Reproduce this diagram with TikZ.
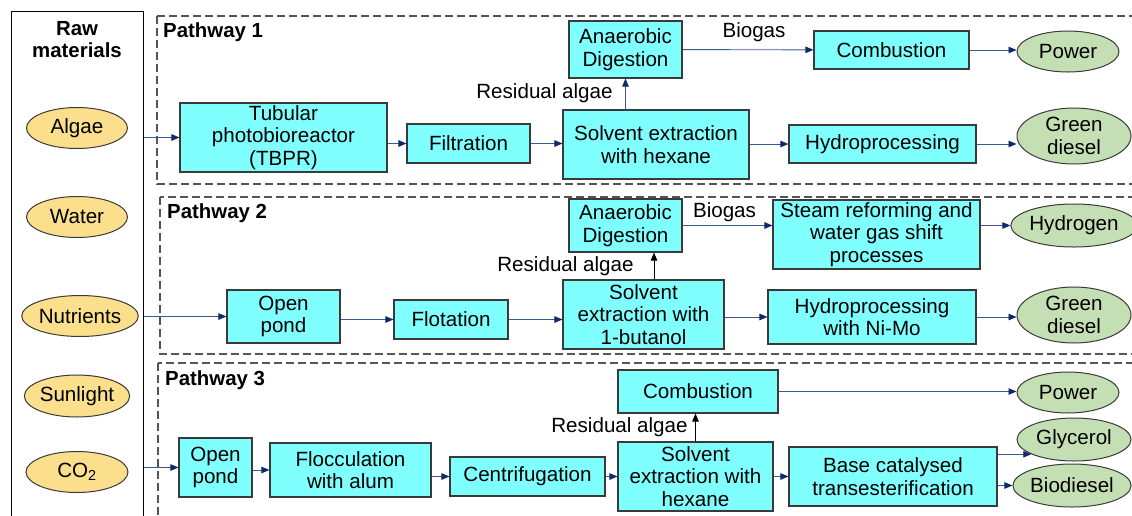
\documentclass[tikz,border=0pt]{standalone}
\usepackage{fontspec}
\setmainfont{Liberation Sans}
\usetikzlibrary{arrows.meta,shapes.geometric}
\definecolor{boxfill}{HTML}{80FFFF}
\definecolor{boxline}{HTML}{3A3A3A}
\definecolor{rawfill}{HTML}{FCDF8C}
\definecolor{prodfill}{HTML}{C5DFB4}
\definecolor{linec}{HTML}{3C5A92}
\definecolor{tipc}{HTML}{0D2A6B}
\definecolor{dashc}{HTML}{555555}
\begin{document}
\begin{tikzpicture}[x=1pt,y=-1pt,
  font=\fontsize{20.6}{22.5}\selectfont,
  proc/.style={draw=boxline, fill=boxfill, line width=1.1pt, align=center, inner sep=0pt},
  rawell/.style={ellipse, draw=boxline, fill=rawfill, line width=1pt, inner sep=0pt, minimum height=41pt},
  prod/.style={ellipse, draw=boxline, fill=prodfill, line width=1pt, inner sep=0pt, align=center},
  arr/.style={draw=linec, line width=0.9pt, -{Triangle[length=8pt,width=6.5pt,color=tipc]}},
  barr/.style={draw=black, line width=0.9pt, -{Triangle[length=8pt,width=6.5pt,color=black]}},
  dashbox/.style={draw=dashc, line width=1.1pt, dash pattern=on 8pt off 4pt},
  pwlabel/.style={font=\fontsize{20.4}{22.5}\selectfont\bfseries, anchor=west, inner sep=0pt},
  lbl/.style={inner sep=0pt}
]
\useasboundingbox (0,0) rectangle (1132,515);

% raw materials column
\node[draw=black, line width=1pt, minimum width=132pt, minimum height=514pt, inner sep=0pt] (rawbox) at (77,268) {};
\node[font=\fontsize{20.4}{22}\selectfont\bfseries, align=center, inner sep=0pt] (rawtitle) at (77,40) {Raw\\materials};
\node[rawell, minimum width=101pt] (algae) at (77,128) {Algae};
\node[rawell, minimum width=101pt] (water) at (77,217) {Water};
\node[rawell, minimum width=114pt] (nutr) at (80,316) {Nutrients};
\node[rawell, minimum width=102pt, minimum height=42pt] (sun) at (77,396) {Sunlight};
\node[rawell, minimum width=102pt] (co2) at (77,472) {CO\textsubscript{2}};

% pathway frames
\draw[dashbox] (157,16) rectangle (1145,184);
\draw[dashbox] (160,197) rectangle (1145,354);
\draw[dashbox] (158,363) rectangle (1145,530);
\node[pwlabel] (pw1) at (163,32) {Pathway 1};
\node[pwlabel] (pw2) at (167,213) {Pathway 2};
\node[pwlabel] (pw3) at (165,380) {Pathway 3};

% ---------- Pathway 1 ----------
\node[proc, minimum width=207pt, minimum height=69pt] (tbpr) at (283.5,137.5) {Tubular\\photobioreactor\\(TBPR)};
\node[proc, minimum width=123pt, minimum height=39pt] (filt) at (468.5,143.5) {Filtration};
\node[proc, minimum width=186pt, minimum height=69pt] (sol1) at (656,144.5) {Solvent extraction\\with hexane};
\node[proc, minimum width=113pt, minimum height=57pt] (ad1) at (625.5,49.5) {Anaerobic\\Digestion};
\node[proc, minimum width=155pt, minimum height=38pt] (comb1) at (891.5,50) {Combustion};
\node[proc, minimum width=187pt, minimum height=38pt] (hydro1) at (882.5,144) {Hydroprocessing};
\node[prod, minimum width=102pt, minimum height=41pt] (power1) at (1068,51.5) {Power};
\node[prod, minimum width=114pt, minimum height=56pt] (gd1) at (1074,136) {Green\\diesel};
\node[lbl] (res1) at (544.5,93) {Residual algae};
\node[lbl] (bio1) at (754,32) {Biogas};

\draw[arr] (rawbox.east |- tbpr) -- (tbpr);
\draw[arr] (tbpr.east |- filt) -- (filt);
\draw[arr] (filt) -- (filt -| sol1.west);
\draw[arr] (sol1.east |- hydro1) -- (hydro1);
\draw[arr] (hydro1) -- (hydro1 -| gd1.west);
\draw[arr] (ad1.south |- sol1.north) -- (ad1.south);
\draw[arr] (ad1) -- (comb1);
\draw[arr] (comb1) -- (comb1 -| power1.west);

% ---------- Pathway 2 ----------
\node[proc, minimum width=113pt, minimum height=53pt] (op2) at (283.5,316.5) {Open\\pond};
\node[proc, minimum width=114pt, minimum height=39pt] (flot) at (451,319.5) {Flotation};
\node[proc, minimum width=161pt, minimum height=69pt] (sol2) at (643.5,314.5) {Solvent\\extraction with\\1-butanol};
\node[proc, minimum width=113pt, minimum height=53pt] (ad2) at (625.5,225.5) {Anaerobic\\Digestion};
\node[proc, minimum width=207pt, minimum height=69pt] (steam) at (876.5,234.5) {Steam reforming and\\water gas shift\\processes};
\node[proc, minimum width=208pt, minimum height=54pt] (hydro2) at (872,317) {Hydroprocessing\\with Ni-Mo};
\node[prod, minimum width=114pt, minimum height=43pt] (h2) at (1074,225.5) {Hydrogen};
\node[prod, minimum width=114pt, minimum height=56pt] (gd2) at (1074,315) {Green\\diesel};
\node[lbl] (res2) at (565.5,266) {Residual algae};
\node[lbl] (bio2) at (724.5,212) {Biogas};

\draw[arr] (rawbox.east |- op2) -- (op2);
\draw[arr] (op2.east |- flot) -- (flot);
\draw[arr] (flot) -- (flot -| sol2.west);
\draw[arr] (sol2.east |- hydro2) -- (hydro2);
\draw[arr] (hydro2) -- (hydro2 -| gd2.west);
\draw[barr] ([xshift=10.5pt]sol2.north) -- ([xshift=10.5pt]sol2.north |- ad2.south);
\draw[arr] (ad2) -- (ad2 -| steam.west);
\draw[arr] (steam.east |- h2) -- (h2);

% ---------- Pathway 3 ----------
\node[proc, minimum width=73pt, minimum height=59pt] (op3) at (215.5,467.5) {Open\\pond};
\node[proc, minimum width=161pt, minimum height=54pt] (floc) at (350.5,470) {Flocculation\\with alum};
\node[proc, minimum width=155pt, minimum height=39pt] (cent) at (527.5,476.5) {Centrifugation};
\node[proc, minimum width=155pt, minimum height=69pt] (sol3) at (695.5,476.5) {Solvent\\extraction with\\hexane};
\node[proc, minimum width=160pt, minimum height=43pt] (comb3) at (698,391.5) {Combustion};
\node[proc, minimum width=208pt, minimum height=59pt] (base) at (893,476.5) {Base catalysed\\transesterification};
\node[prod, minimum width=102pt, minimum height=41pt] (power3) at (1068,392.5) {Power};
\node[prod, minimum width=114pt, minimum height=43pt] (glyc) at (1074,439.5) {Glycerol};
\node[prod, minimum width=118pt, minimum height=43pt] (biod) at (1072,485.5) {Biodiesel};
\node[lbl] (res3) at (619.5,427) {Residual algae};

\draw[arr] (rawbox.east |- op3) -- (op3);
\draw[arr] (op3.east |- floc) -- (floc);
\draw[arr] (floc.east |- cent) -- (cent);
\draw[arr] (cent) -- (sol3);
\draw[arr] (sol3) -- (base);
\draw[barr] (sol3.north) -- (sol3.north |- comb3.south);
\draw[arr] (comb3) -- (comb3 -| power3.west);
\draw[arr] (base.east |- glyc.199) -- (glyc.199);
\draw[arr] (base.east |- biod) -- (biod);
\end{tikzpicture}
\end{document}
